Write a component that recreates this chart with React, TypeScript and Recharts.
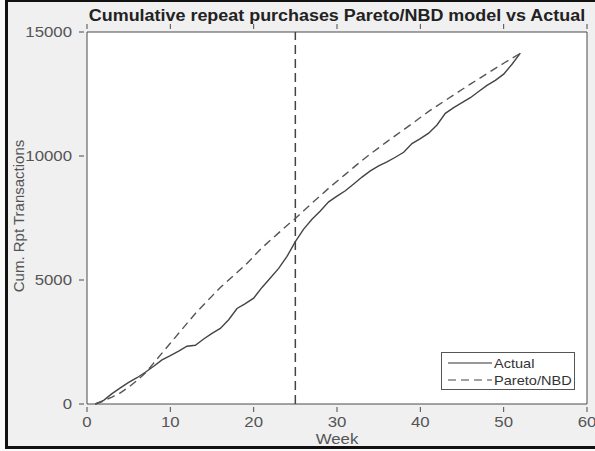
import React from 'react'
import { LineChart, Line, XAxis, YAxis, CartesianGrid, ReferenceLine } from 'recharts'

const weeks = [
  1, 2, 3, 4, 5, 6, 7, 8, 9, 10, 11, 12, 13, 14, 15, 16, 17, 18, 19, 20, 21, 22, 23, 24, 25, 26,
  27, 28, 29, 30, 31, 32, 33, 34, 35, 36, 37, 38, 39, 40, 41, 42, 43, 44, 45, 46, 47, 48, 49, 50, 51, 52,
]

const actual = [
  0, 150, 420, 650, 870, 1060, 1280, 1520, 1780, 1950, 2130, 2330, 2370, 2620, 2850, 3050, 3400, 3850,
  4050, 4270, 4700, 5080, 5470, 5950, 6550, 7050, 7450, 7780, 8150, 8380, 8600, 8870, 9150, 9400, 9600,
  9760, 9950, 10150, 10500, 10700, 10920, 11250, 11720, 11950, 12150, 12350, 12600, 12850, 13050, 13300,
  13700, 14150,
]

const paretoNbd = [
  0, 120, 280, 450, 680, 950, 1250, 1650, 2050, 2450, 2850, 3250, 3650, 4000, 4350, 4700, 5000, 5300,
  5600, 5950, 6300, 6600, 6900, 7200, 7480, 7790, 8100, 8400, 8700, 8980, 9260, 9540, 9820, 10080, 10330,
  10580, 10820, 11060, 11300, 11550, 11800, 12020, 12240, 12460, 12680, 12900, 13110, 13320, 13530, 13740,
  13940, 14140,
]

const xTicks = [0, 10, 20, 30, 40, 50, 60]
const yTicks = [0, 5000, 10000, 15000]
const splitWeek = 25

const data = weeks.map((w, i) => ({ week: w, actual: actual[i], pareto: paretoNbd[i] }))

const FONT = '"Liberation Sans", Arial, sans-serif'
const TICK_COLOR = '#555'
const BOX = '#4a4a4a'
// the reference looks stretched a bit sideways
const STRETCH = 1.12

function BottomTick({ x, y, payload }: any) {
  return (
    <g>
      <line x1={x} y1={y} x2={x} y2={y - 5} stroke={BOX} />
      <text
        transform={`translate(${x},${y + 15}) scale(${STRETCH},1)`}
        textAnchor="middle"
        fill={TICK_COLOR}
        fontSize={15}
        fontFamily={FONT}
      >
        {payload.value}
      </text>
    </g>
  )
}

function TopTick({ x, y }: any) {
  return <line x1={x} y1={y} x2={x} y2={y + 5} stroke={BOX} />
}

function LeftTick({ x, y, payload }: any) {
  return (
    <g>
      <line x1={x} y1={y} x2={x + 5} y2={y} stroke={BOX} />
      <text
        transform={`translate(${x - 7},${y + 5}) scale(${STRETCH},1)`}
        textAnchor="end"
        fill={TICK_COLOR}
        fontSize={15}
        fontFamily={FONT}
      >
        {payload.value}
      </text>
    </g>
  )
}

function RightTick({ x, y }: any) {
  return <line x1={x} y1={y} x2={x - 5} y2={y} stroke={BOX} />
}

function LegendBox() {
  return (
    <div
      style={{
        position: 'absolute',
        left: 441,
        top: 352,
        width: 134,
        height: 38,
        border: '1px solid #555',
        background: '#fff',
        boxSizing: 'border-box',
      }}
    >
      <svg width={132} height={36} style={{ display: 'block' }}>
        <line x1={6} y1={10} x2={50} y2={10} stroke="#333" strokeWidth={1.2} />
        <text transform={`translate(52,15) scale(${STRETCH},1)`} fontSize={13} fill="#333" fontFamily={FONT}>
          Actual
        </text>
        <line x1={6} y1={27} x2={50} y2={27} stroke="#444" strokeWidth={1.2} strokeDasharray="8 5" />
        <text transform={`translate(52,32) scale(${STRETCH},1)`} fontSize={13} fill="#333" fontFamily={FONT}>
          Pareto/NBD
        </text>
      </svg>
    </div>
  )
}

export default function App() {
  return (
    <div style={{ position: 'relative', width: 595, height: 451, background: '#fafafa' }}>
      <style>{'body{margin:0}'}</style>
      <div
        style={{
          position: 'absolute',
          left: 5,
          top: 0,
          width: 595,
          height: 449,
          borderLeft: '3px solid #111',
          borderTop: '2px solid #111',
          borderBottom: '3px solid #111',
          background: '#f0f0f0',
          boxSizing: 'border-box',
        }}
      />
      <div style={{ position: 'absolute', left: 0, top: 0 }}>
        <LineChart
          width={595}
          height={451}
          data={data}
          margin={{ top: 27, right: 2, bottom: 17, left: 27 }}
        >
          <CartesianGrid horizontal={false} vertical={false} fill="#fff" />
          <XAxis
            xAxisId="bottom"
            dataKey="week"
            type="number"
            domain={[0, 60]}
            ticks={xTicks}
            height={30}
            axisLine={{ stroke: BOX }}
            tickLine={false}
            tick={<BottomTick />}
          />
          <XAxis
            xAxisId="top"
            orientation="top"
            dataKey="week"
            type="number"
            domain={[0, 60]}
            ticks={xTicks}
            height={5}
            axisLine={{ stroke: BOX }}
            tickLine={false}
            tick={<TopTick />}
          />
          <YAxis
            yAxisId="left"
            type="number"
            domain={[0, 15000]}
            ticks={yTicks}
            width={60}
            axisLine={{ stroke: BOX }}
            tickLine={false}
            tick={<LeftTick />}
          />
          <YAxis
            yAxisId="right"
            orientation="right"
            type="number"
            domain={[0, 15000]}
            ticks={yTicks}
            width={6}
            axisLine={{ stroke: BOX }}
            tickLine={false}
            tick={<RightTick />}
          />
          <ReferenceLine
            xAxisId="bottom"
            yAxisId="left"
            x={splitWeek}
            stroke="#444"
            strokeWidth={1.5}
            strokeDasharray="9 5"
          />
          <Line
            xAxisId="bottom"
            yAxisId="left"
            type="linear"
            dataKey="actual"
            name="Actual"
            stroke="#444"
            strokeWidth={1.4}
            dot={false}
            isAnimationActive={false}
          />
          <Line
            xAxisId="bottom"
            yAxisId="left"
            type="linear"
            dataKey="pareto"
            name="Pareto/NBD"
            stroke="#555"
            strokeWidth={1.4}
            strokeDasharray="8 5"
            dot={false}
            isAnimationActive={false}
          />
        </LineChart>
      </div>
      <LegendBox />
      <div
        style={{
          position: 'absolute',
          left: 87,
          width: 500,
          top: 7,
          textAlign: 'center',
          fontFamily: FONT,
          fontWeight: 'bold',
          fontSize: 16,
          color: '#222',
          whiteSpace: 'nowrap',
          transform: `scaleX(${STRETCH})`,
        }}
      >
        Cumulative repeat purchases Pareto/NBD model vs Actual
      </div>
      <div
        style={{
          position: 'absolute',
          left: 87,
          width: 500,
          top: 431,
          textAlign: 'center',
          fontFamily: FONT,
          fontSize: 15,
          lineHeight: '16px',
          color: TICK_COLOR,
          transform: `scaleX(${STRETCH})`,
        }}
      >
        Week
      </div>
      <div
        style={{
          position: 'absolute',
          left: 19,
          top: 216,
          transform: 'translate(-50%, -50%) rotate(-90deg)',
          whiteSpace: 'nowrap',
          fontFamily: FONT,
          fontSize: 15,
          lineHeight: '16px',
          color: TICK_COLOR,
        }}
      >
        Cum. Rpt Transactions
      </div>
    </div>
  )
}
